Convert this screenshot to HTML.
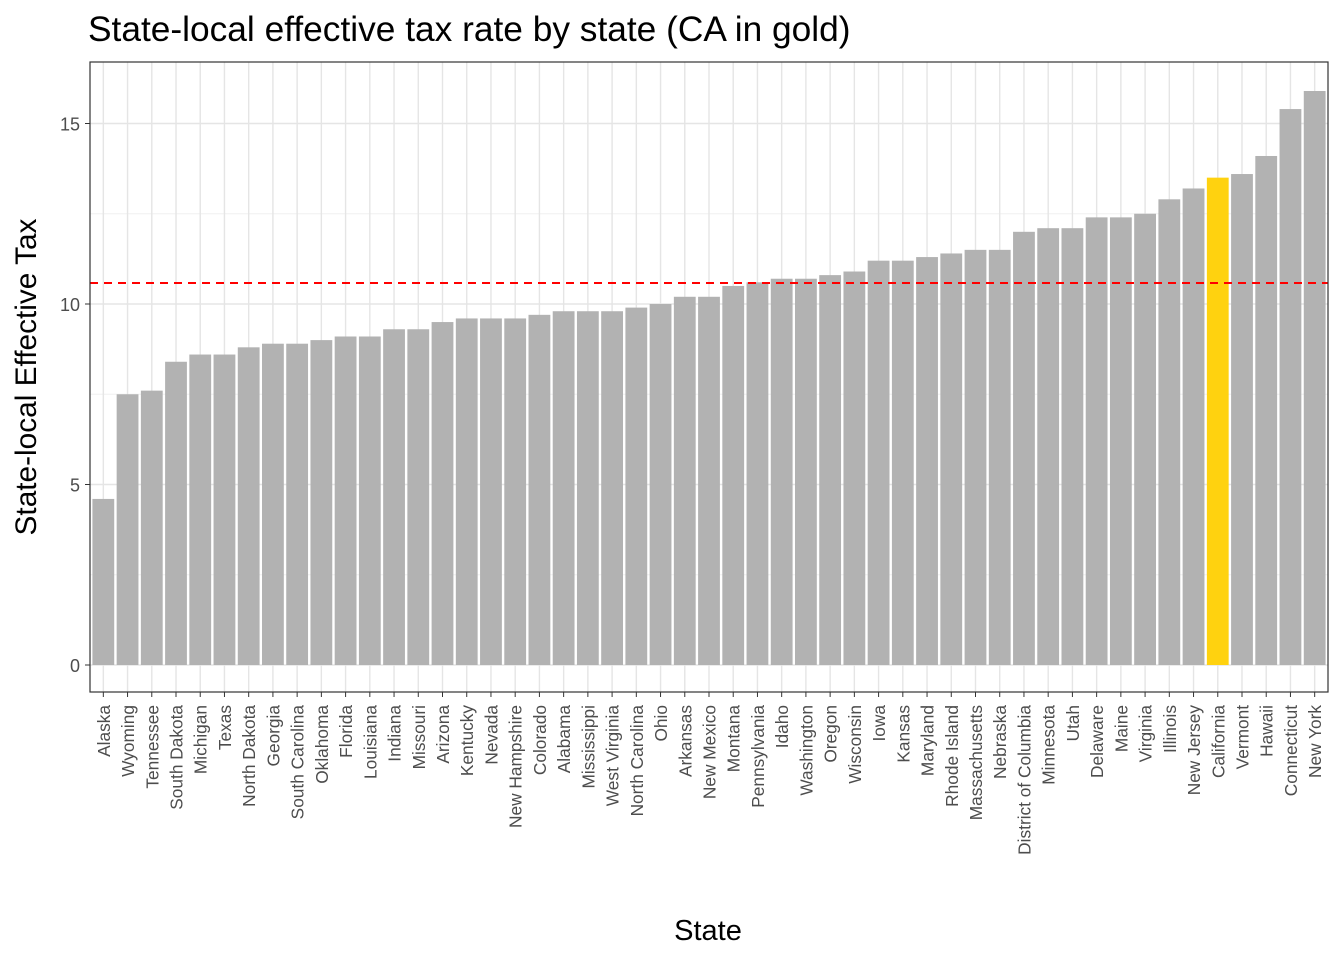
<!DOCTYPE html>
<html><head><meta charset="utf-8"><style>
body{margin:0;background:#fff;}
svg text{font-family:"Liberation Sans",Arial,sans-serif;}
</style></head><body>
<svg id="chart" width="1344" height="960" xmlns="http://www.w3.org/2000/svg">
<text x="88" y="41" font-size="35.3" fill="#000">State-local effective tax rate by state (CA in gold)</text>
<text transform="translate(36,377) rotate(-90)" text-anchor="middle" font-size="29.8" fill="#000">State-local Effective Tax</text>
<text x="708" y="940" text-anchor="middle" font-size="29" fill="#000">State</text>
<g id="grid"></g><g id="bars"></g><g id="ref"></g><g id="axes"></g>
</svg>
<script>
const states=["Alaska","Wyoming","Tennessee","South Dakota","Michigan","Texas","North Dakota","Georgia","South Carolina","Oklahoma","Florida","Louisiana","Indiana","Missouri","Arizona","Kentucky","Nevada","New Hampshire","Colorado","Alabama","Mississippi","West Virginia","North Carolina","Ohio","Arkansas","New Mexico","Montana","Pennsylvania","Idaho","Washington","Oregon","Wisconsin","Iowa","Kansas","Maryland","Rhode Island","Massachusetts","Nebraska","District of Columbia","Minnesota","Utah","Delaware","Maine","Virginia","Illinois","New Jersey","California","Vermont","Hawaii","Connecticut","New York"];
const rates=[4.6,7.5,7.6,8.4,8.6,8.6,8.8,8.9,8.9,9.0,9.1,9.1,9.3,9.3,9.5,9.6,9.6,9.6,9.7,9.8,9.8,9.8,9.9,10.0,10.2,10.2,10.5,10.6,10.7,10.7,10.8,10.9,11.2,11.2,11.3,11.4,11.5,11.5,12.0,12.1,12.1,12.4,12.4,12.5,12.9,13.2,13.5,13.6,14.1,15.4,15.9];
const highlight=["California"];
const yTicks=[0,5,10,15];
const yMinor=[2.5,7.5,12.5];
const refValue=[10.58];
const NS="http://www.w3.org/2000/svg";
const L=90,R=1328,T=62,B=692;
const y=v=>665-v*36.1;
const step=(R-L)/(states.length-1+1.1);
const x=i=>L+(0.55+i)*step;
function mk(tag,attrs,parent){const e=document.createElementNS(NS,tag);for(const k in attrs)e.setAttribute(k,attrs[k]);document.getElementById(parent).appendChild(e);return e;}
mk('rect',{x:L,y:T,width:R-L,height:B-T,fill:'#fff'},'grid');
yMinor.forEach(v=>{const e=mk('line',{x1:L,x2:R,y1:y(v),y2:y(v),stroke:'#f0f0f0','stroke-width':1},'grid');

});
yTicks.forEach(v=>{const e=mk('line',{x1:L,x2:R,y1:y(v),y2:y(v),stroke:'#e5e5e5','stroke-width':1.4},'grid');


const t=mk('text',{x:L-10,y:y(v)+7,'text-anchor':'end','font-size':18,fill:'#4d4d4d'},'axes');t.textContent=v;


mk('line',{x1:L-5,x2:L,y1:y(v),y2:y(v),stroke:'#333','stroke-width':1},'axes');});
states.forEach((s,i)=>{const g=mk('line',{x1:x(i),x2:x(i),y1:T,y2:B,stroke:'#e5e5e5','stroke-width':1.4},'grid');


const w=step*0.9;
const b=mk('rect',{x:x(i)-w/2,y:y(rates[i]),width:w,height:y(0)-y(rates[i]),fill:highlight.includes(s)?'#ffd20f':'#b2b2b2'},'bars');


mk('line',{x1:x(i),x2:x(i),y1:B,y2:B+5,stroke:'#333','stroke-width':1},'axes');
const t=mk('text',{transform:`translate(${x(i)+6.5},${B+13}) rotate(-90)`,'text-anchor':'end','font-size':17.3,fill:'#4d4d4d'},'axes');t.textContent=s;

});
refValue.forEach(v=>{const e=mk('line',{x1:L,x2:R,y1:y(v),y2:y(v),stroke:'#ff0000','stroke-width':2,'stroke-dasharray':'8,6'},'ref');

});
const fr=mk('rect',{x:L,y:T,width:R-L,height:B-T,fill:'none',stroke:'#333','stroke-width':1.2},'axes');


</script>
</body></html>
